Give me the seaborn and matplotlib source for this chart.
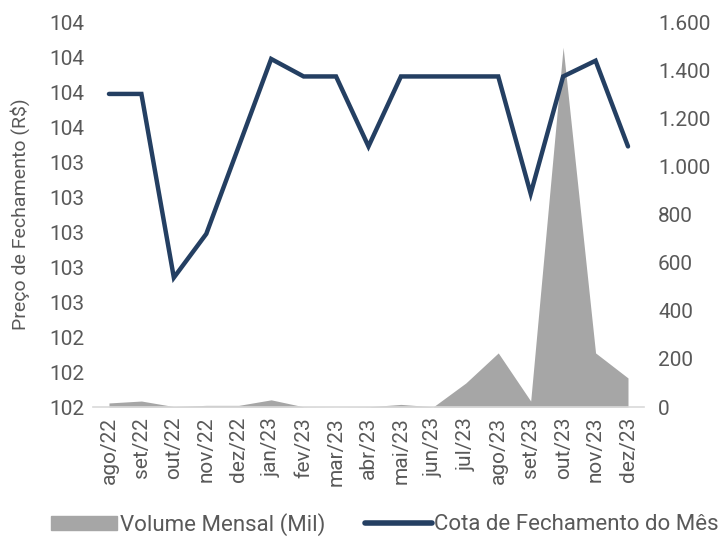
import numpy as np
import pandas as pd
import matplotlib
matplotlib.use("Agg")
import matplotlib.pyplot as plt
import matplotlib.patches as mpatches
import matplotlib.lines as mlines
from matplotlib.ticker import FuncFormatter, FixedLocator
import seaborn as sns

# DATA
meses = ["ago/22", "set/22", "out/22", "nov/22", "dez/22", "jan/23", "fev/23",
         "mar/23", "abr/23", "mai/23", "jun/23", "jul/23", "ago/23", "set/23",
         "out/23", "nov/23", "dez/23"]
cota = [103.79, 103.79, 102.74, 102.99, 103.49, 103.99, 103.89, 103.89, 103.49,
        103.89, 103.89, 103.89, 103.89, 103.22, 103.89, 103.98, 103.49]
volume = [17, 25, 2, 7, 7, 30, 1, 0, 1, 11, 1, 100, 225, 25, 1496, 225, 121]

df = pd.DataFrame({"mes": meses, "x": np.arange(len(meses)), "cota": cota, "volume": volume})

# STYLE
sns.set_theme(style="white")
plt.rcParams["font.family"] = ["Roboto", "DejaVu Sans"]
txt = "#595959"
navy = "#243F62"
grey = "#A6A6A6"

fig = plt.figure(figsize=(7.19, 5.42), dpi=100)
ax1 = fig.add_axes([0.129, 0.249, 0.767, 0.710])
ax2 = ax1.twinx()

# volume area on the right axis
ax2.fill_between(df["x"], 0, df["volume"], color=grey, linewidth=0)
ax2.set_ylim(0, 1600)
ax2.yaxis.set_major_locator(FixedLocator(np.arange(0, 1601, 200)))
ax2.yaxis.set_major_formatter(FuncFormatter(lambda v, p: f"{v:,.0f}".replace(",", ".")))

# closing price line on the left axis, drawn on top
ax1.set_zorder(ax2.get_zorder() + 1)
ax1.patch.set_visible(False)
sns.lineplot(data=df, x="x", y="cota", ax=ax1, color=navy, linewidth=3.2,
             solid_capstyle="round", solid_joinstyle="miter")
ax1.set_ylim(102.0, 104.2)
ax1.yaxis.set_major_locator(FixedLocator(np.arange(102.0, 104.21, 0.2)))
ax1.yaxis.set_major_formatter(FuncFormatter(lambda v, p: f"{v:.0f}"))
ax1.set_xlim(-0.5, len(meses) - 0.5)
ax1.set_xticks(df["x"])
ax1.set_xticklabels(meses, rotation=90)
ax1.set_xticks(np.arange(-0.5, len(meses), 1), minor=True)
ax1.set_xlabel("")
ax1.set_ylabel("Preço de Fechamento (R$)", fontsize=14, color=txt, labelpad=14)

for ax in (ax1, ax2):
    for s in ax.spines.values():
        s.set_visible(False)
    ax.tick_params(axis="y", length=0, labelsize=15, labelcolor=txt, pad=6)
ax1.spines["bottom"].set_visible(True)
ax1.spines["bottom"].set_color("#D9D9D9")
ax1.spines["bottom"].set_linewidth(1.2)
ax1.tick_params(axis="x", which="major", length=0, labelsize=15, labelcolor=txt, pad=7)
ax1.tick_params(axis="x", which="minor", length=6, width=1.2, color="#D9D9D9", direction="out")
ax2.tick_params(axis="y", pad=10)

# legend
h1 = mpatches.Patch(color=grey, label="Volume Mensal (Mil)")
h2 = mlines.Line2D([], [], color=navy, linewidth=4, solid_capstyle="round",
                   label="Cota de Fechamento do Mês")
fig.legend(handles=[h1, h2], loc="lower center", bbox_to_anchor=(0.535, -0.025),
           ncol=2, frameon=False, fontsize=16, labelcolor=txt,
           handlelength=3.0, handleheight=0.6, handletextpad=0.1, columnspacing=1.8)

fig.savefig("out.png", dpi=100)
